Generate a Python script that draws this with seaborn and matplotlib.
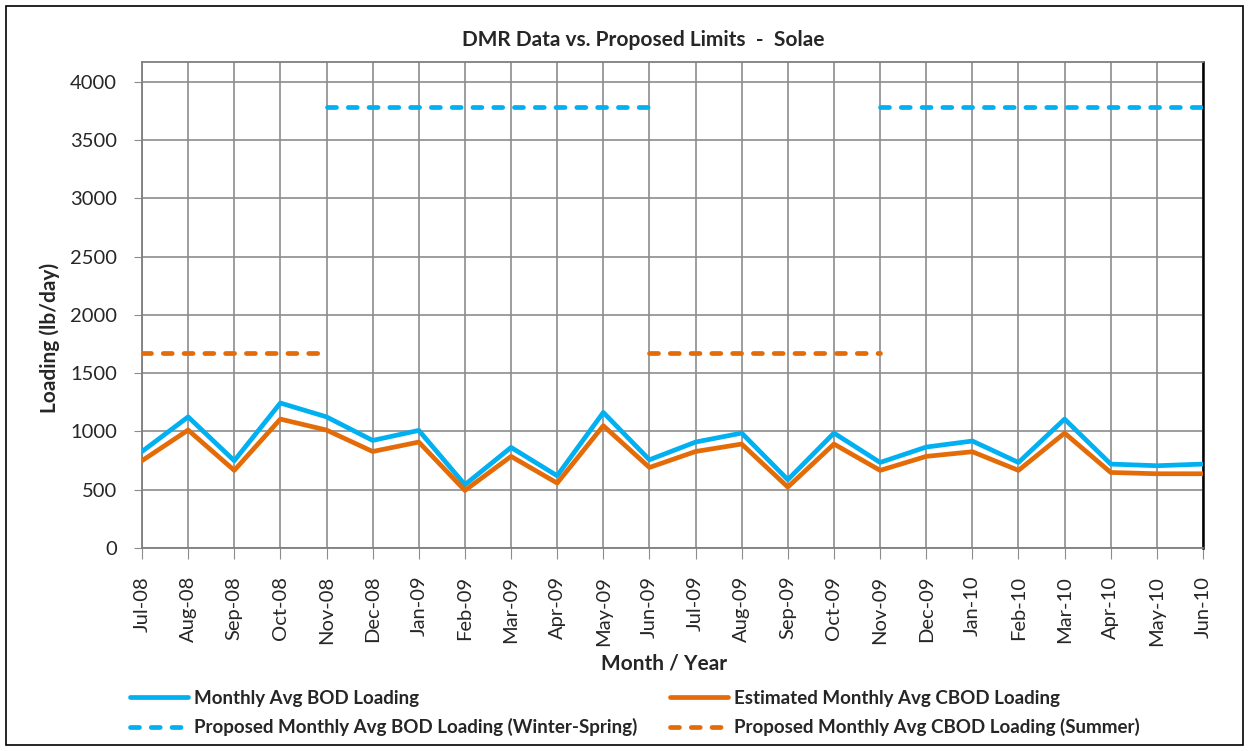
import pandas as pd
import matplotlib
matplotlib.use('Agg')
import matplotlib.pyplot as plt
import seaborn as sns
from matplotlib.patches import Rectangle

# data
months = ['Jul-08', 'Aug-08', 'Sep-08', 'Oct-08', 'Nov-08', 'Dec-08', 'Jan-09', 'Feb-09',
          'Mar-09', 'Apr-09', 'May-09', 'Jun-09', 'Jul-09', 'Aug-09', 'Sep-09', 'Oct-09',
          'Nov-09', 'Dec-09', 'Jan-10', 'Feb-10', 'Mar-10', 'Apr-10', 'May-10', 'Jun-10']
bod = [828, 1125, 749, 1244, 1125, 923, 1009, 543, 863, 620, 1163, 757,
       909, 986, 586, 986, 734, 866, 918, 734, 1106, 720, 706, 720]
cbod = [749, 1012, 666, 1106, 1012, 828, 909, 494, 786, 557, 1049, 691,
        828, 892, 523, 892, 666, 786, 826, 666, 986, 648, 637, 637]
# proposed limits (None = no limit in that season)
bod_limit = [None] * 4 + [3780] * 8 + [None] * 4 + [3780] * 8
cbod_limit = [1670] * 5 + [None] * 6 + [1670] * 6 + [None] * 7

blue = '#00B0F0'
orange = '#E36C09'

sns.set_style('white')
plt.rcParams['font.family'] = ['Lato', 'DejaVu Sans']

df = pd.DataFrame({'pos': range(len(months)), 'month': months, 'bod': bod, 'cbod': cbod,
                   'bod_limit': bod_limit, 'cbod_limit': cbod_limit})

W, H = 1249, 751
fig = plt.figure(figsize=(12.49, 7.51), dpi=100)
ax = fig.add_axes([142 / W, 1 - 548 / H, (1203 - 142) / W, (548 - 62) / H])


def segments(col):
    # split a limit column into its contiguous non-empty runs
    sub = df[['pos', col]].copy()
    sub['grp'] = sub[col].isna().cumsum()
    sub = sub.dropna()
    return [g for _, g in sub.groupby('grp')]


lw = 3.4
dash = (1.9, 2.5)
h_bod_lim = h_cbod_lim = None
for seg in segments('bod_limit'):
    sns.lineplot(data=seg, x='pos', y='bod_limit', ax=ax, color=blue, lw=lw,
                 linestyle=(0, dash), dash_capstyle='round', zorder=3)
    h_bod_lim = h_bod_lim or ax.lines[-1]
for seg in segments('cbod_limit'):
    sns.lineplot(data=seg, x='pos', y='cbod_limit', ax=ax, color=orange, lw=lw,
                 linestyle=(0, dash), dash_capstyle='round', zorder=3)
    h_cbod_lim = h_cbod_lim or ax.lines[-1]

sns.lineplot(data=df, x='pos', y='bod', ax=ax, color=blue, lw=lw, zorder=4)
h_bod = ax.lines[-1]
sns.lineplot(data=df, x='pos', y='cbod', ax=ax, color=orange, lw=lw, zorder=4)
h_cbod = ax.lines[-1]

ax.set_xlim(0, len(months) - 1)
ax.set_ylim(0, 4170)
ax.set_yticks(range(0, 4001, 500))
ax.set_xticks(range(len(months)))
ax.set_xticklabels(months, rotation=90, fontsize=14.5)
ax.tick_params(axis='y', labelsize=14.5, length=6, color='#8c8c8c', direction='out', left=True, pad=12)
ax.tick_params(axis='x', length=8, color='#8c8c8c', direction='out', bottom=True, pad=12)
ax.grid(True, color='#8c8c8c', lw=1.2)
ax.set_axisbelow(True)
for s in ['left', 'bottom', 'top']:
    ax.spines[s].set_color('#7f7f7f')
    ax.spines[s].set_linewidth(1.3)
ax.spines['right'].set_color('black')
ax.spines['right'].set_linewidth(1.8)
ax.set_xlabel('')
ax.set_ylabel('')

fig.text(664 / W, 1 - 664 / H, 'Month / Year', ha='center', va='center', fontsize=15, fontweight='bold')
fig.text(50 / W, 1 - 338 / H, 'Loading (lb/day)', ha='center', va='center', rotation=90,
         fontsize=15, fontweight='bold')
fig.text(643 / W, 1 - 40 / H, 'DMR Data vs. Proposed Limits  -  Solae', ha='center', va='center',
         fontsize=15, fontweight='bold')

leg_kw = dict(loc='center left', frameon=False, prop={'weight': 'bold', 'size': 13.5},
              handlelength=3.1, handletextpad=0.3, labelspacing=0.6, borderpad=0, borderaxespad=0)
leg1 = fig.legend([h_bod, h_bod_lim], ['Monthly Avg BOD Loading',
                                       'Proposed Monthly Avg BOD Loading (Winter-Spring)'],
                  bbox_to_anchor=(130 / W, 1 - 713 / H), **leg_kw)
fig.legend([h_cbod, h_cbod_lim], ['Estimated Monthly Avg CBOD Loading',
                                  'Proposed Monthly Avg CBOD Loading (Summer)'],
           bbox_to_anchor=(670 / W, 1 - 713 / H), **leg_kw)

fig.patches.append(Rectangle((6 / W, 6 / H), 1237 / W, 739 / H, transform=fig.transFigure,
                             fill=False, edgecolor='black', lw=1.2))

fig.savefig('out.png', dpi=100)
